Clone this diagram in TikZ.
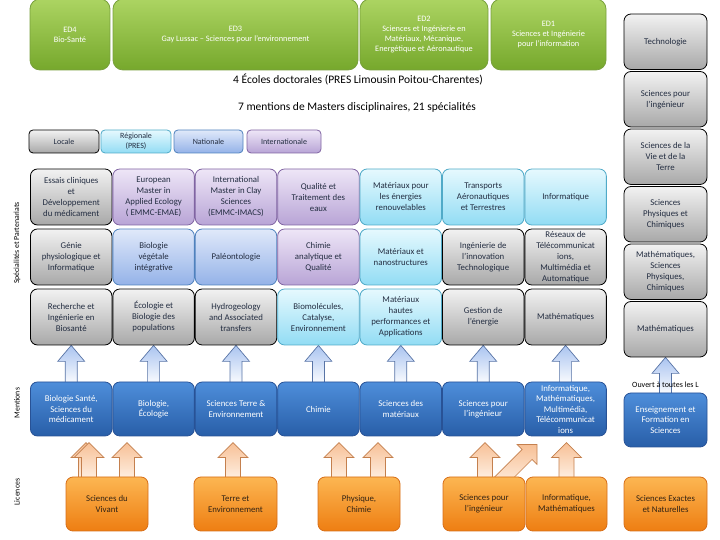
\documentclass[tikz,border=0pt]{standalone}
\usepackage{fontspec}
\setmainfont{Carlito}
\usetikzlibrary{calc,backgrounds}

\definecolor{txt}{RGB}{35,45,65}
\definecolor{grnT}{RGB}{172,212,98}
\definecolor{grnB}{RGB}{118,168,44}
\definecolor{grnD}{RGB}{120,160,60}
\definecolor{gryT}{RGB}{242,242,242}
\definecolor{gryB}{RGB}{168,168,168}
\definecolor{cyaT}{RGB}{230,249,254}
\definecolor{cyaB}{RGB}{146,220,244}
\definecolor{cyaD}{RGB}{80,170,200}
\definecolor{bluT}{RGB}{224,233,250}
\definecolor{bluB}{RGB}{148,178,232}
\definecolor{bluD}{RGB}{79,129,189}
\definecolor{purT}{RGB}{238,230,247}
\definecolor{purB}{RGB}{184,164,214}
\definecolor{purD}{RGB}{128,100,162}
\definecolor{menT}{RGB}{78,142,218}
\definecolor{menB}{RGB}{40,94,168}
\definecolor{menD}{RGB}{40,82,150}
\definecolor{orgT}{RGB}{252,182,82}
\definecolor{orgB}{RGB}{238,126,18}
\definecolor{orgD}{RGB}{215,110,25}
\definecolor{orgTxt}{RGB}{50,35,20}
\definecolor{baT}{RGB}{170,196,240}
\definecolor{baD}{RGB}{88,116,166}
\definecolor{oaT}{RGB}{247,192,150}
\definecolor{oaB}{RGB}{255,242,230}
\definecolor{oaD}{RGB}{196,128,78}

% block arrow from coordinate #2 (tail) to #3 (tip)
% #4 shaft half width, #5 head half width, #6 head length
\newcommand\blockarr[6]{%
  \coordinate (bah) at ($(#3)!#6!(#2)$);
  \draw[#1] ($(#2)!#4!90:(#3)$) -- ($(bah)!#4!90:(#3)$) -- ($(bah)!#5!90:(#3)$)
    -- (#3) -- ($(bah)!#5!-90:(#3)$) -- ($(bah)!#4!-90:(#3)$)
    -- ($(#2)!#4!-90:(#3)$) -- cycle;
}

\begin{document}
\begin{tikzpicture}[x=1pt,y=1pt,
  bx/.style={rounded corners=7pt, line width=0.8pt, align=center, inner sep=1pt,
    font=\fontsize{8.8}{11}\selectfont, text=txt},
  cell/.style={minimum width=81.5pt, minimum height=56pt},
  gbox/.style={bx, draw=black, top color=gryT, bottom color=gryB},
  cbox/.style={bx, draw=cyaD, top color=cyaT, bottom color=cyaB},
  bbox/.style={bx, draw=bluD, top color=bluT, bottom color=bluB},
  pbox/.style={bx, draw=purD, top color=purT, bottom color=purB},
  edbox/.style={bx, rounded corners=10pt, draw=grnD, top color=grnT, bottom color=grnB,
    text=white, font=\fontsize{8.3}{10}\selectfont},
  mbox/.style={bx, draw=menD, top color=menT, bottom color=menB, text=white,
    minimum width=81.5pt, minimum height=54pt, font=\fontsize{8.8}{10.5}\selectfont},
  lbox/.style={bx, draw=orgD, top color=orgT, bottom color=orgB, text=orgTxt,
    minimum width=82pt, minimum height=54pt},
  legbox/.style={minimum height=23pt, rounded corners=4pt, font=\fontsize{8}{9.5}\selectfont},
  rbox/.style={gbox, minimum width=83pt, minimum height=55.5pt},
  barrow/.style={draw=baD, line width=0.7pt, top color=baT, bottom color=white},
  oarrow/.style={draw=oaD, line width=0.7pt, top color=oaT, bottom color=oaB},
  title/.style={font=\fontsize{11.5}{13}\selectfont, text=black},
  side/.style={rotate=90, font=\fontsize{7.8}{9}\selectfont, text=black}
]
\useasboundingbox (0,0) rectangle (720,540);

% Doctoral schools
\node[edbox, minimum width=80pt, minimum height=71pt] (ed4) at (70,505.5) {ED4\\Bio-Santé};
\node[edbox, minimum width=245pt, minimum height=71pt] (ed3) at (235.5,505.5) {ED3\\Gay Lussac – Sciences pour l’environnement};
\node[edbox, minimum width=128pt, minimum height=71pt] (ed2) at (424,505.5) {ED2\\Sciences et Ingénierie en\\Matériaux, Mécanique,\\Energétique et Aéronautique};
\node[edbox, minimum width=115pt, minimum height=71pt] (ed1) at (548.5,505.5) {ED1\\Sciences et Ingénierie\\pour l’information};

\node[title] (t1) at (358,460) {4 Écoles doctorales (PRES Limousin Poitou-Charentes)};
\node[title] (t2) at (357,433) {7 mentions de Masters disciplinaires, 21 spécialités};

% Legend
\node[gbox, legbox, minimum width=70pt] (lg1) at (64,398.5) {Locale};
\node[cbox, legbox, minimum width=70pt] (lg2) at (136,398.5) {Régionale\\(PRES)};
\node[bbox, legbox, minimum width=69pt] (lg3) at (208.5,398.5) {Nationale};
\node[pbox, legbox, minimum width=74pt] (lg4) at (284,398.5) {Internationale};

% Specialities row 1
\node[gbox, cell] (s11) at (71.2,343) {Essais cliniques\\et\\Développement\\du médicament};
\node[pbox, cell] (s12) at (153.6,343) {European\\Master in\\Applied Ecology\\( EMMC-EMAE)};
\node[pbox, cell] (s13) at (236,343) {International\\Master in Clay\\Sciences\\(EMMC-IMACS)};
\node[pbox, cell] (s14) at (318.4,343) {Qualité et\\Traitement des\\eaux};
\node[cbox, cell] (s15) at (400.8,343) {Matériaux pour\\les énergies\\renouvelables};
\node[cbox, cell] (s16) at (483.2,343) {Transports\\Aéronautiques\\et Terrestres};
\node[cbox, cell] (s17) at (565.6,343) {Informatique};
% row 2
\node[gbox, cell] (s21) at (71.2,283) {Génie\\physiologique et\\Informatique};
\node[bbox, cell] (s22) at (153.6,283) {Biologie\\végétale\\intégrative};
\node[bbox, cell] (s23) at (236,283) {Paléontologie};
\node[pbox, cell] (s24) at (318.4,283) {Chimie\\analytique et\\Qualité};
\node[cbox, cell] (s25) at (400.8,283) {Matériaux et\\nanostructures};
\node[gbox, cell] (s26) at (483.2,283) {Ingénierie de\\l’innovation\\Technologique};
\node[gbox, cell] (s27) at (565.6,283) {Réseaux de\\Télécommunicat\\ions,\\Multimédia et\\Automatique};
% row 3
\node[gbox, cell] (s31) at (71.2,223) {Recherche et\\Ingénierie en\\Biosanté};
\node[gbox, cell] (s32) at (153.6,223) {Écologie et\\Biologie des\\populations};
\node[gbox, cell] (s33) at (236,223) {Hydrogeology\\and Associated\\transfers};
\node[cbox, cell] (s34) at (318.4,223) {Biomolécules,\\Catalyse,\\Environnement};
\node[cbox, cell] (s35) at (400.8,223) {Matériaux\\hautes\\performances et\\Applications};
\node[gbox, cell] (s36) at (483.2,223) {Gestion de\\l’énergie};
\node[gbox, cell] (s37) at (565.6,223) {Mathématiques};

% Mentions
\node[mbox] (m1) at (71.2,131) {Biologie Santé,\\Sciences du\\médicament};
\node[mbox] (m2) at (153.6,131) {Biologie,\\Écologie};
\node[mbox] (m3) at (236,131) {Sciences Terre \&\\Environnement};
\node[mbox] (m4) at (318.4,131) {Chimie};
\node[mbox] (m5) at (400.8,131) {Sciences des\\matériaux};
\node[mbox] (m6) at (483.2,131) {Sciences pour\\l’ingénieur};
\node[mbox] (m7) at (565.6,131) {Informatique,\\Mathématiques,\\Multimédia,\\Télécommunicat\\ions};

% Licences
\node[lbox] (lv) at (107,36) {Sciences du\\Vivant};
\node[lbox, minimum width=83pt] (lt) at (235.5,36) {Terre et\\Environnement};
\node[lbox] (lp) at (359,36) {Physique,\\Chimie};
\node[lbox] (ls) at (484,36) {Sciences pour\\l’ingénieur};
\node[lbox, minimum width=81pt] (li) at (566.5,36) {Informatique,\\Mathématiques};

% Right column
\node[rbox] (r1) at (665.5,498.25) {Technologie};
\node[rbox] (r2) at (665.5,440.75) {Sciences pour\\l’ingénieur};
\node[rbox] (r3) at (665.5,383.25) {Sciences de la\\Vie et de la\\Terre};
\node[rbox] (r4) at (665.5,325.75) {Sciences\\Physiques et\\Chimiques};
\node[rbox] (r5) at (665.5,268.25) {Mathématiques,\\Sciences\\Physiques,\\Chimiques};
\node[rbox] (r6) at (665.5,210.75) {Mathématiques};
\node[mbox, minimum width=83pt] (ens) at (665.5,120) {Enseignement et\\Formation en\\Sciences};
\node[lbox, minimum width=83pt] (lse) at (665.5,36) {Sciences Exactes\\et Naturelles};
\node[font=\fontsize{8}{9.5}\selectfont, text=black, inner sep=0pt] (ouv) at (665.5,155) {Ouvert à toutes les L};

% Side labels
\node[side] (sd1) at (17,297) {Spécialités et Partenariats};
\node[side] (sd2) at (17,137) {Mentions};
\node[side] (sd3) at (17,48) {Licences};

% Arrows
\begin{scope}[on background layer]
  \foreach \i in {1,...,7}{
    \coordinate (bt\i) at ($(m\i.north)+(0,-4)$);
    \blockarr{barrow}{bt\i}{s3\i.south}{6pt}{13.5pt}{16pt}
  }
  \coordinate (bt8) at ($(ens.north)+(0,-4)$);
  \blockarr{barrow}{bt8}{r6.south}{6pt}{13.5pt}{16pt}

  \coordinate (ot1) at ($(lv.north)+(-21,-4)$); \coordinate (op1) at ($(lv.north)+(-21,34)$);
  \coordinate (ot2) at ($(lv.north)+(-18,-4)$); \coordinate (op2) at ($(lv.north)+(-18,34)$);
  \coordinate (ot3) at ($(lv.north)+(20,-4)$);  \coordinate (op3) at ($(lv.north)+(20,34)$);
  \coordinate (ot4) at ($(lt.north)+(-2.5,-4)$); \coordinate (op4) at ($(lt.north)+(-2.5,34)$);
  \coordinate (ot5) at ($(lp.north)+(-20,-4)$); \coordinate (op5) at ($(lp.north)+(-20,34)$);
  \coordinate (ot6) at ($(lp.north)+(19,-4)$);  \coordinate (op6) at ($(lp.north)+(19,34)$);
  \coordinate (ot7) at ($(ls.north)+(1,-4)$);   \coordinate (op7) at ($(ls.north)+(1,34)$);
  \coordinate (ot8) at ($(li.north)+(0,-4)$);   \coordinate (op8) at ($(li.north)+(0,34)$);
  \foreach \i in {1,...,8}{
    \blockarr{oarrow}{ot\i}{op\i}{7.5pt}{15pt}{15pt}
  }
  \coordinate (ot9) at ($(ls.north)+(14,-7)$);
  \coordinate (op9) at ($(ls.north)+(53,32)$);
  \blockarr{oarrow}{ot9}{op9}{7pt}{14pt}{14pt}
\end{scope}
\end{tikzpicture}
\end{document}
